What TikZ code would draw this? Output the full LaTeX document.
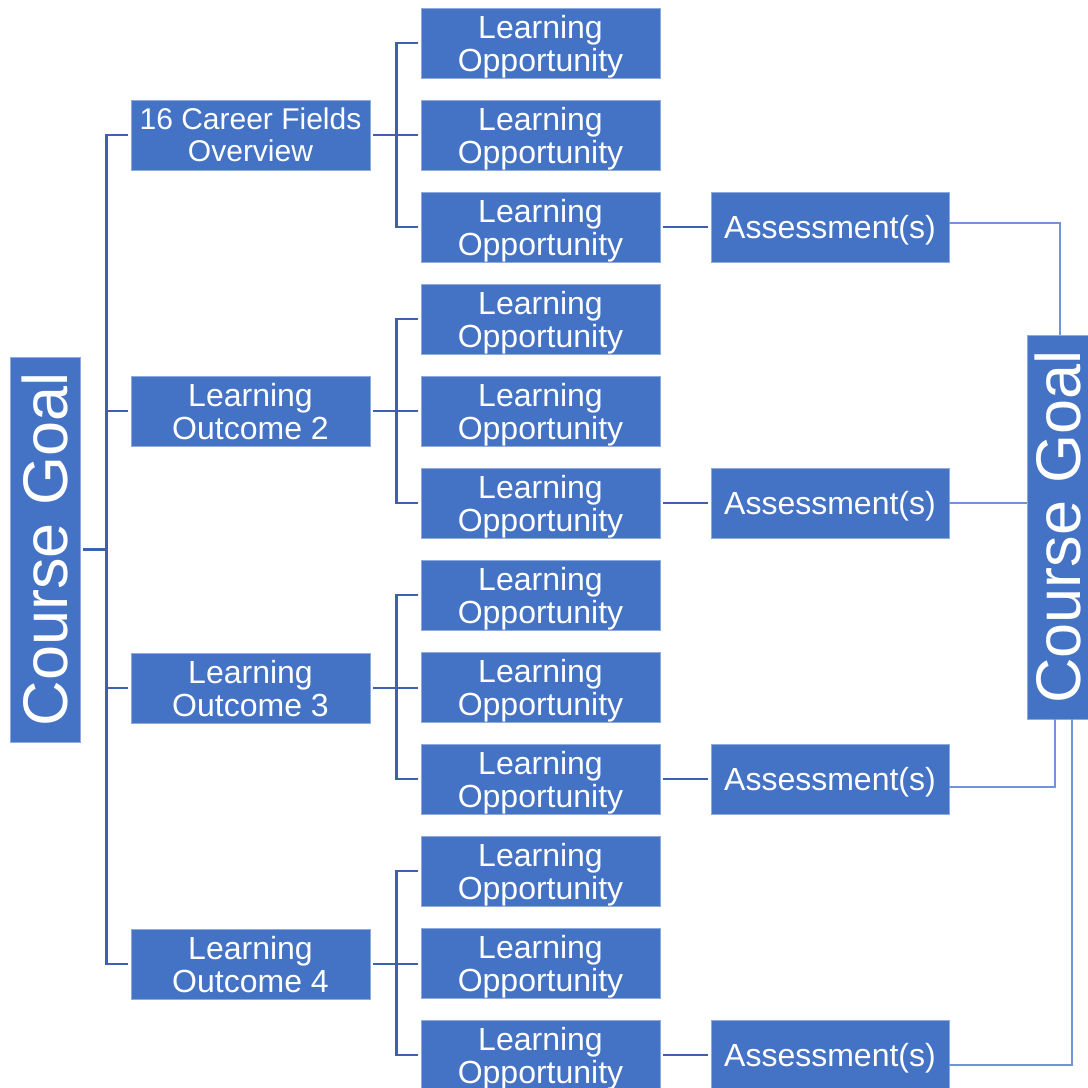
\documentclass[tikz,border=0pt]{standalone}
\usepackage{fontspec}
\setmainfont{Liberation Sans}
\definecolor{boxblue}{HTML}{4472C4}
\definecolor{edgeblue}{HTML}{8FAADC}
\definecolor{treeblue}{HTML}{3C62AD}
\definecolor{linkblue}{HTML}{7194D8}
\begin{document}
\begin{tikzpicture}[x=0.5pt,y=-0.5pt,
  box/.style={fill=boxblue,draw=edgeblue,line width=0.4pt,text=white,align=center,
    inner sep=0pt,text depth=0pt,font=\fontsize{16}{16.5}\selectfont},
  lobox/.style={box,minimum width=119.5pt,minimum height=35pt},
  asbox/.style={box,minimum width=119pt,minimum height=35pt},
  goalbox/.style={box,rotate=90,font=\fontsize{31.5}{33}\selectfont},
  tree/.style={draw=treeblue,line width=1.4pt,shorten <=1.5pt,shorten >=1.5pt},
  treec/.style={draw=treeblue,line width=1.4pt},
  link/.style={draw=linkblue,line width=0.75pt}]
\useasboundingbox (0,0) rectangle (1088,1088);
\clip (0,0) rectangle (1088,1088);

% left and right goal boxes
\node[goalbox,minimum width=192.5pt,minimum height=35pt] (cgL) at (45,549.5) {Course Goal};
\node[goalbox,minimum width=192pt,minimum height=30.5pt] (cgR) at (1057.5,527) {Course Goal};

% outcomes
\node[lobox,font=\fontsize{15}{16}\selectfont] (o1) at (250.5,135) {16 Career Fields\\Overview};
\node[lobox] (o2) at (250.5,411) {Learning\\Outcome 2};
\node[lobox] (o3) at (250.5,688) {Learning\\Outcome 3};
\node[lobox] (o4) at (250.5,964) {Learning\\Outcome 4};

% learning opportunities
\foreach \i/\y in {1/43,2/135,3/227,4/319,5/411,6/503,7/595,8/687,9/779,10/871,11/963,12/1055}
  \node[lobox] (l\i) at (540.5,\y) {Learning\\Opportunity};

% assessments
\node[asbox] (a1) at (830,227) {Assessment(s)};
\node[asbox] (a2) at (830,503) {Assessment(s)};
\node[asbox] (a3) at (830,779) {Assessment(s)};
\node[asbox] (a4) at (830,1055) {Assessment(s)};

% trunk from left goal
\coordinate (t) at ([xshift=13pt]cgL.south);
\draw[tree,shorten >=0pt] (cgL.south) -- (t);
\draw[tree] (o1.west) -- (o1.west -| t) -- (o4.west -| t) -- (o4.west);
\draw[tree,shorten <=0pt] (o2.west -| t) -- (o2.west);
\draw[tree,shorten <=0pt] (o3.west -| t) -- (o3.west);

% branches to learning opportunities
\foreach \g/\a/\b/\c in {1/1/2/3,2/4/5/6,3/7/8/9,4/10/11/12} {
  \coordinate (j\g) at ([xshift=13pt]o\g.east);
  \draw[tree] (o\g.east) -- (o\g.east -| l\b.west);
  \draw[tree] (l\a.west) -- (l\a.west -| j\g) -- (l\c.west -| j\g) -- (l\c.west);
}

% to assessments
\draw[tree] (l3.east) -- (a1.west);
\draw[tree] (l6.east) -- (a2.west);
\draw[tree] (l9.east) -- (a3.west);
\draw[tree] (l12.east) -- (a4.west);

% links to right goal
\coordinate (r1) at (1060,223);
\coordinate (r3) at (1055,787);
\coordinate (r4) at (1072,1065);
\draw[link] (a1.east |- r1) -- (r1) -- (r1 |- cgR.east);
\draw[link] (a2.east) -- (a2.east -| cgR.north);
\draw[link] (a3.east |- r3) -- (r3) -- (r3 |- cgR.west);
\draw[link] (a4.east |- r4) -- (r4) -- (r4 |- cgR.west);
\end{tikzpicture}
\end{document}
